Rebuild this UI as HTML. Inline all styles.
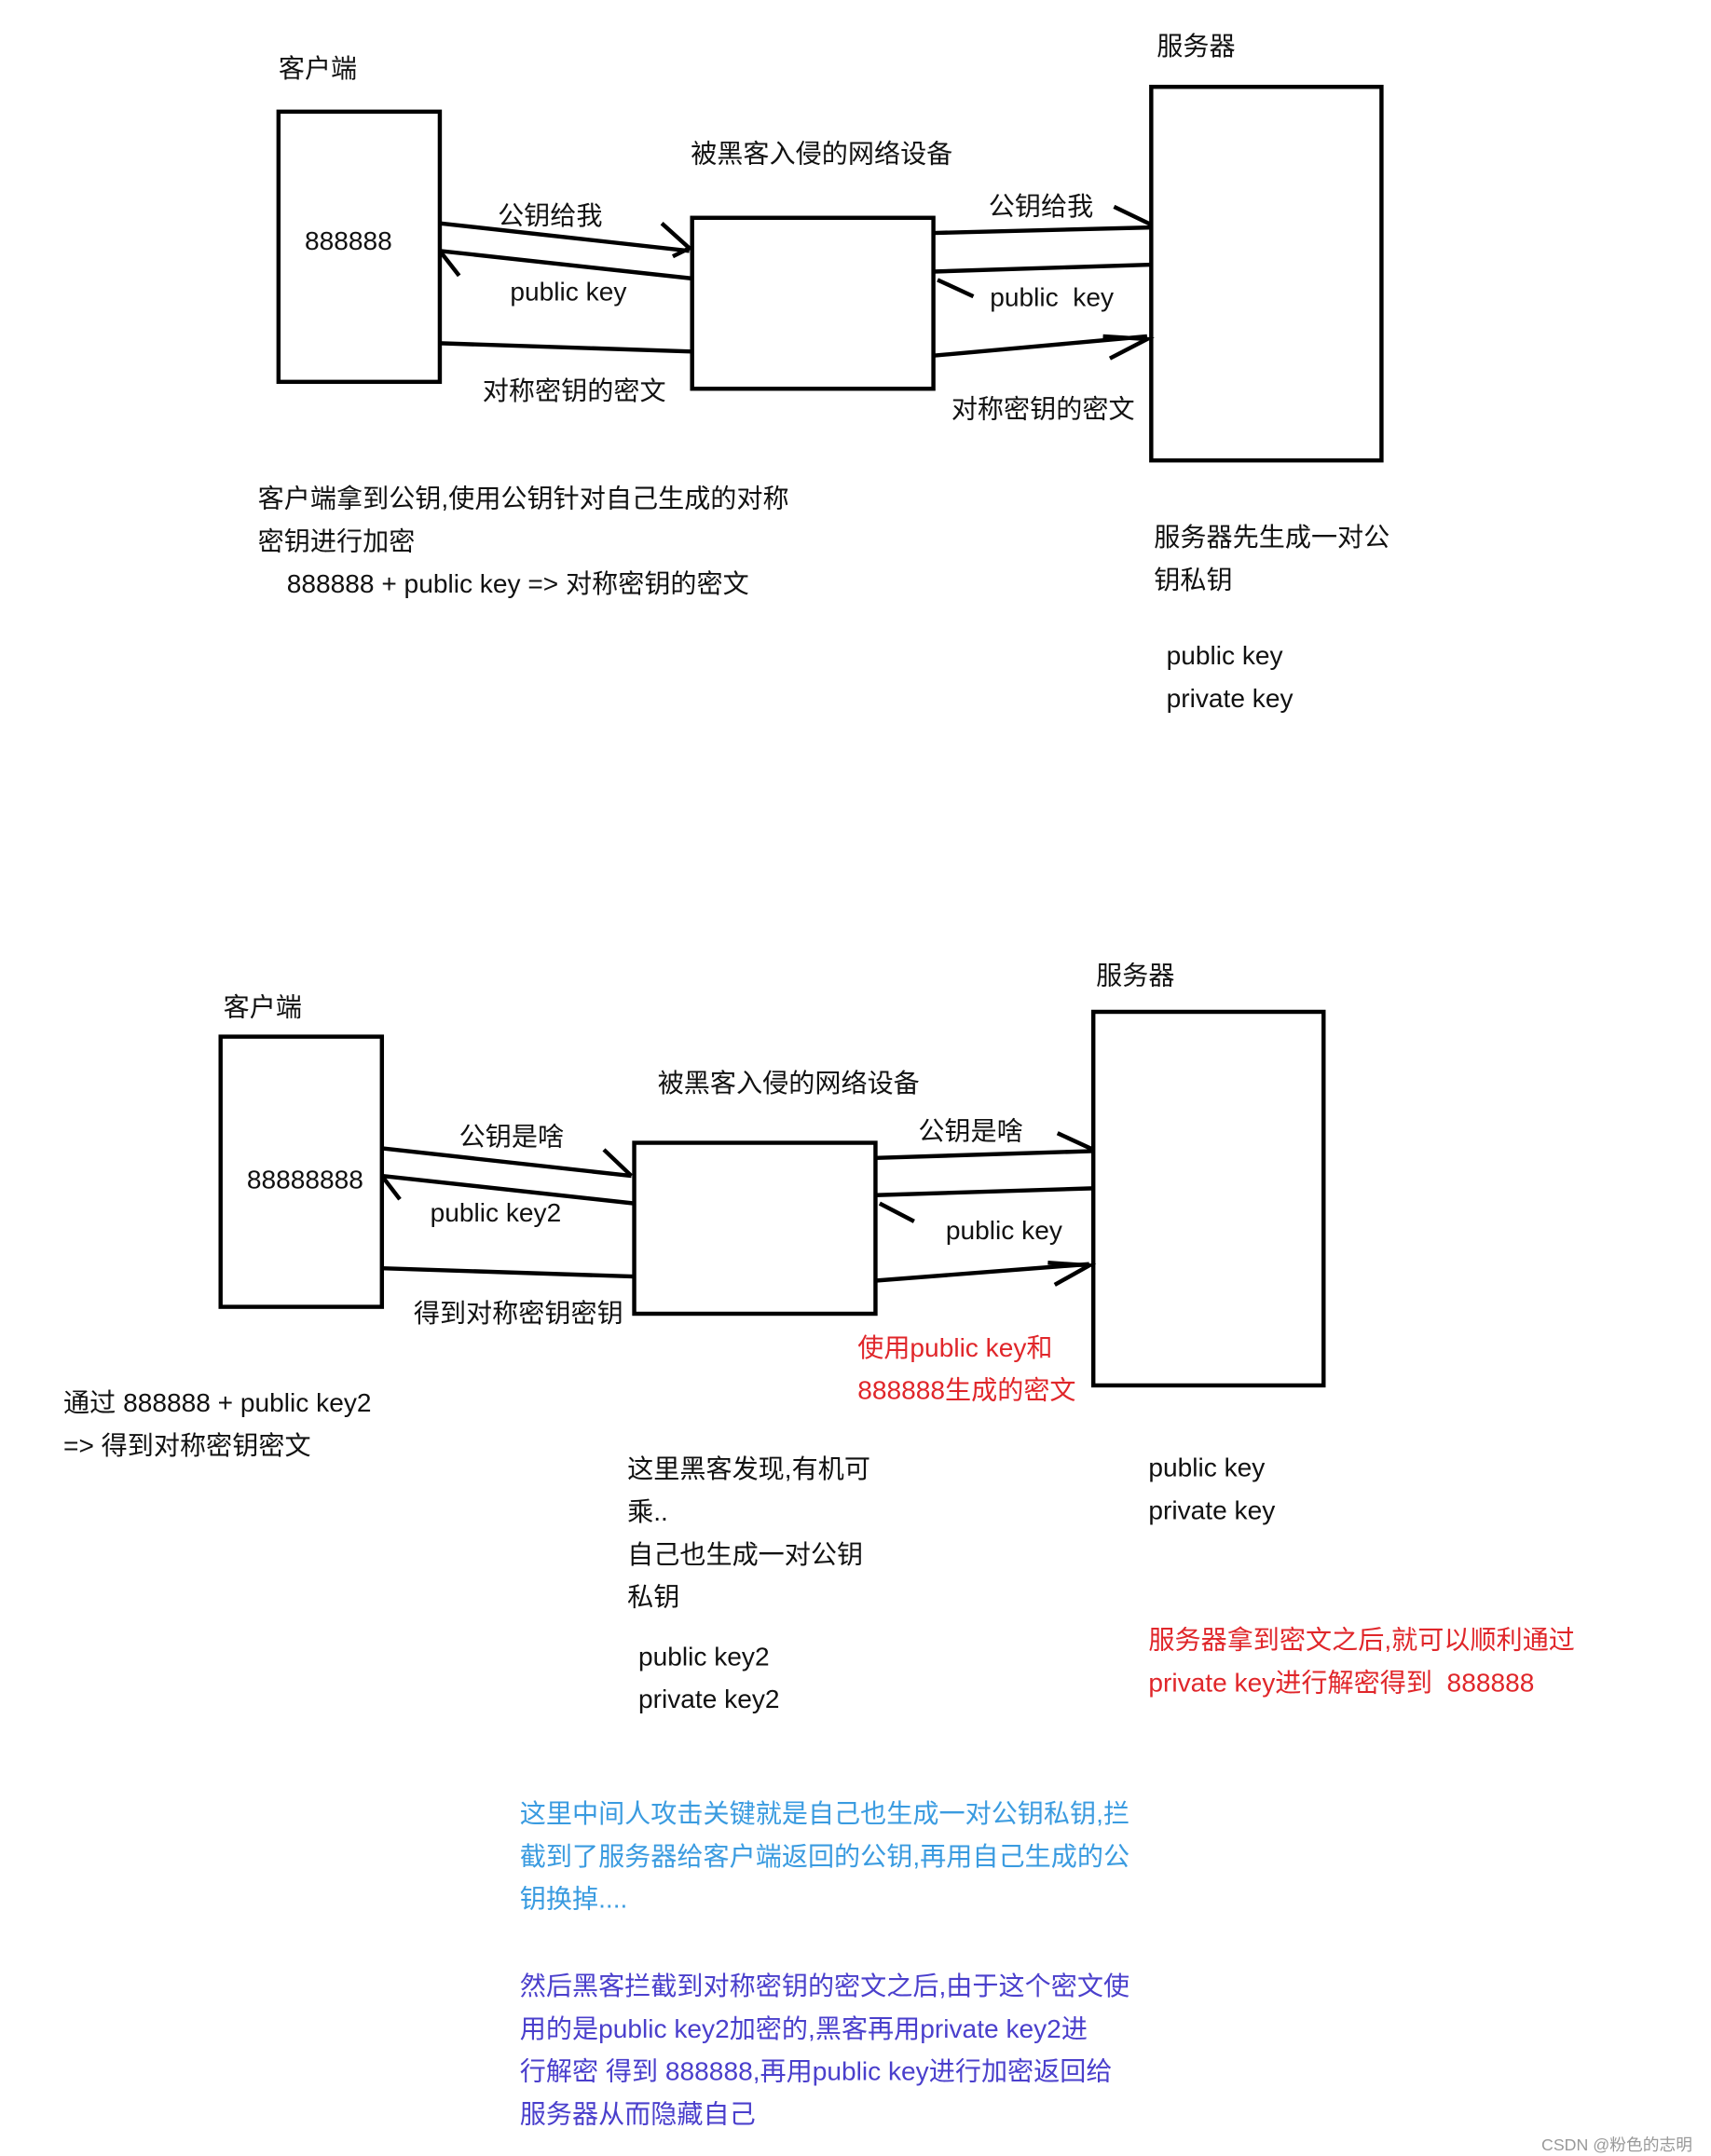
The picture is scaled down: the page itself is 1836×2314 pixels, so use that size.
<!DOCTYPE html>
<html><head><meta charset="utf-8"><style>
html,body{margin:0;padding:0;background:#fff;}
svg{display:block;}
text{font-family:"Liberation Sans","Noto Sans CJK SC",sans-serif;font-size:19px;fill:#111;}
.r{fill:#e0262a;} .b{fill:#3a9be0;} .p{fill:#4a3fcc;}
</style></head><body>
<svg width="1836" height="2314" viewBox="0 0 1241 1564" preserveAspectRatio="none" xmlns="http://www.w3.org/2000/svg">
<g fill="none" stroke="#000" stroke-width="3">
<rect x="202" y="81" width="117" height="196"/>
<rect x="502" y="158" width="175" height="124"/>
<rect x="835" y="63" width="167" height="271"/>
<line x1="319" y1="162" x2="500" y2="182"/><polyline points="480,162 500,180 488,186"/>
<line x1="319" y1="182" x2="502" y2="202"/><polyline points="333,200 319,182"/>
<line x1="319" y1="249" x2="502" y2="255"/>
<line x1="677" y1="169" x2="835" y2="165"/><polyline points="808,150 835,163"/>
<line x1="677" y1="197" x2="835" y2="192"/><polyline points="706,215 680,203"/>
<line x1="677" y1="258" x2="832" y2="244"/><polyline points="805,260 832,246 800,244"/>

<rect x="160" y="752" width="117" height="196"/>
<rect x="460" y="829" width="175" height="124"/>
<rect x="793" y="734" width="167" height="271"/>
<line x1="277" y1="833" x2="458" y2="853"/><polyline points="438,834 458,853"/>
<line x1="277" y1="853" x2="460" y2="873"/><polyline points="290,870 277,853"/>
<line x1="277" y1="920" x2="460" y2="926"/>
<line x1="635" y1="840" x2="793" y2="835"/><polyline points="767,822 793,834"/>
<line x1="635" y1="867" x2="793" y2="862"/><polyline points="663,886 638,873"/>
<line x1="635" y1="929" x2="790" y2="917"/><polyline points="765,932 790,918 760,916"/>
</g>
<text x="202" y="56">客户端</text>
<text x="221" y="181">888888</text>
<text x="501" y="118">被黑客入侵的网络设备</text>
<text x="839" y="40">服务器</text>
<text x="361" y="163">公钥给我</text>
<text x="370" y="218">public key</text>
<text x="350" y="290">对称密钥的密文</text>
<text x="717" y="156">公钥给我</text>
<text x="718" y="222">public&#160; key</text>
<text x="690" y="303">对称密钥的密文</text>
<text x="187" y="368">客户端拿到公钥,使用公钥针对自己生成的对称</text>
<text x="187" y="399">密钥进行加密</text>
<text x="208" y="430">888888 + public key =&gt; 对称密钥的密文</text>
<text x="837" y="396">服务器先生成一对公</text>
<text x="837" y="427">钥私钥</text>
<text x="846" y="482">public key</text>
<text x="846" y="513">private key</text>

<text x="162" y="737">客户端</text>
<text x="179" y="862">88888888</text>
<text x="477" y="792">被黑客入侵的网络设备</text>
<text x="795" y="714">服务器</text>
<text x="333" y="831">公钥是啥</text>
<text x="312" y="886">public key2</text>
<text x="300" y="959">得到对称密钥密钥</text>
<text x="666" y="827">公钥是啥</text>
<text x="686" y="899">public key</text>
<text class="r" x="622" y="984">使用public key和</text>
<text class="r" x="622" y="1015">888888生成的密文</text>
<text x="46" y="1024">通过 888888 + public key2</text>
<text x="46" y="1055">=&gt; 得到对称密钥密文</text>
<text x="455" y="1072">这里黑客发现,有机可</text>
<text x="455" y="1103">乘..</text>
<text x="455" y="1134">自己也生成一对公钥</text>
<text x="455" y="1165">私钥</text>
<text x="463" y="1208">public key2</text>
<text x="463" y="1239">private key2</text>
<text x="833" y="1071">public key</text>
<text x="833" y="1102">private key</text>
<text class="r" x="833" y="1196">服务器拿到密文之后,就可以顺利通过</text>
<text class="r" x="833" y="1227">private key进行解密得到&#160; 888888</text>
<text class="b" x="377" y="1322">这里中间人攻击关键就是自己也生成一对公钥私钥,拦</text>
<text class="b" x="377" y="1353">截到了服务器给客户端返回的公钥,再用自己生成的公</text>
<text class="b" x="377" y="1384">钥换掉....</text>
<text class="p" x="377" y="1447">然后黑客拦截到对称密钥的密文之后,由于这个密文使</text>
<text class="p" x="377" y="1478">用的是public key2加密的,黑客再用private key2进</text>
<text class="p" x="377" y="1509">行解密 得到 888888,再用public key进行加密返回给</text>
<text class="p" x="377" y="1540">服务器从而隐藏自己</text>
<text x="1118" y="1560" style="font-size:12px;fill:#999">CSDN @粉色的志明</text>
</svg>
</body></html>
